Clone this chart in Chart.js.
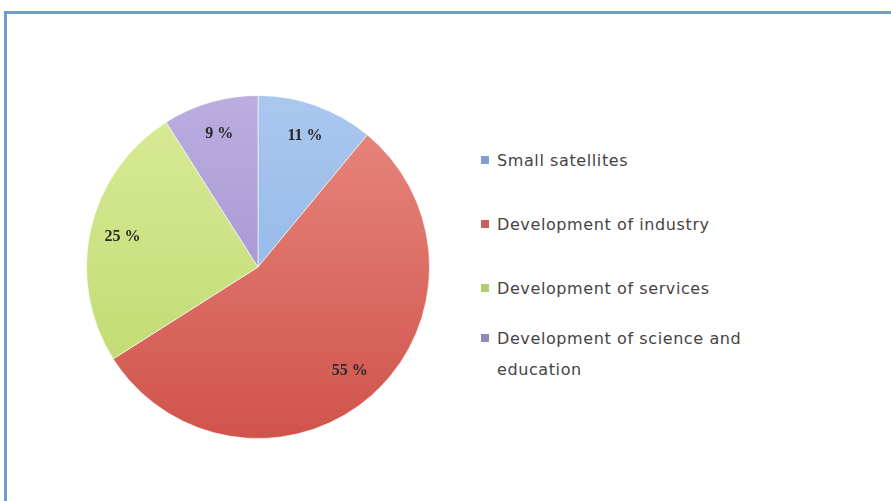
<!DOCTYPE html>
<html>
<head>
<meta charset="utf-8">
<script src="https://cdn.jsdelivr.net/npm/chart.js@4/dist/chart.umd.min.js"></script>
<style>
  html, body { margin: 0; padding: 0; background: #fff; overflow: hidden; }
  body { width: 891px; height: 501px; position: relative; }
  .edgeTop { position: absolute; left: 4px; top: 11px; width: 887px; height: 3px; background: #6f9ad5; }
  .edgeLeft { position: absolute; left: 4px; top: 11px; width: 3px; height: 490px; background: #6f9ad5; }
  .pieBox { position: absolute; left: 86px; top: 95px; width: 344px; height: 344px; }
  #legend {
    position: absolute; left: 481px; top: 128px; width: 300px;
    font-family: "DejaVu Sans", sans-serif; font-size: 16px; letter-spacing: 0.6px; color: #444;
  }
  #legend .item {
    position: relative; padding-left: 16px; height: 64px;
    display: flex; align-items: center;
  }
  #legend .item:last-child { height: 68px; }
  #legend .item .txt { display: block; width: 258px; line-height: 31px; position: relative; }
  #legend .item .sw {
    position: absolute; left: -16px; top: 11px; width: 8px; height: 8px;
  }
</style>
</head>
<body>
<div class="edgeTop"></div>
<div class="edgeLeft"></div>
<div class="pieBox"><canvas id="pieChart"></canvas></div>
<div id="legend"></div>

<script>
'use strict';

var categories = [
  'Small satellites',
  'Development of industry',
  'Development of services',
  'Development of science and education'
];
var shares = [11, 55, 25, 9];
// light (top) and dark (bottom) shade per slice
var topColors = ['#aac7ee', '#e88a80', '#d9eb98', '#bbaddf'];
var bottomColors = ['#86aee6', '#d0534b', '#bcd86a', '#9988cf'];
var legendColors = ['#7f9fcf', '#c4625d', '#b3cc6e', '#9488bb'];

function sliceFill(context) {
  var chart = context.chart;
  var area = chart.chartArea;
  var i = context.dataIndex;
  if (!area) return topColors[i];
  var g = chart.ctx.createLinearGradient(0, area.top, 0, area.bottom);
  g.addColorStop(0, topColors[i]);
  g.addColorStop(1, bottomColors[i]);
  return g;
}

// percentage text inside each slice
var sliceLabels = {
  id: 'sliceLabels',
  afterDatasetsDraw: function(chart) {
    var ctx = chart.ctx;
    var meta = chart.getDatasetMeta(0);
    ctx.save();
    ctx.font = 'bold 16px "Liberation Serif", serif';
    ctx.fillStyle = '#2a2a2a';
    ctx.textAlign = 'center';
    ctx.textBaseline = 'middle';
    meta.data.forEach(function(arc, i) {
      var p = arc.getProps(['x', 'y', 'startAngle', 'endAngle', 'outerRadius'], true);
      var mid = (p.startAngle + p.endAngle) / 2;
      var r = p.outerRadius * 0.81;
      ctx.fillText(shares[i] + ' %', p.x + Math.cos(mid) * r, p.y + Math.sin(mid) * r);
    });
    ctx.restore();
  }
};

new Chart('pieChart', {
  type: 'pie',
  data: {
    labels: categories,
    datasets: [{
      data: shares,
      backgroundColor: sliceFill,
      borderColor: 'rgba(255,255,255,0.6)',
      borderWidth: 1
    }]
  },
  options: {
    responsive: true,
    maintainAspectRatio: false,
    animation: false,
    layout: { padding: 0 },
    plugins: {
      legend: { display: false },
      tooltip: { enabled: false }
    }
  },
  plugins: [sliceLabels]
});

var legend = document.getElementById('legend');
categories.forEach(function(name, i) {
  var item = document.createElement('div');
  item.className = 'item';
  var txt = document.createElement('span');
  txt.className = 'txt';
  var sw = document.createElement('span');
  sw.className = 'sw';
  sw.style.background = legendColors[i];
  txt.appendChild(sw);
  txt.appendChild(document.createTextNode(name));
  item.appendChild(txt);
  legend.appendChild(item);
});
</script>
</body>
</html>
